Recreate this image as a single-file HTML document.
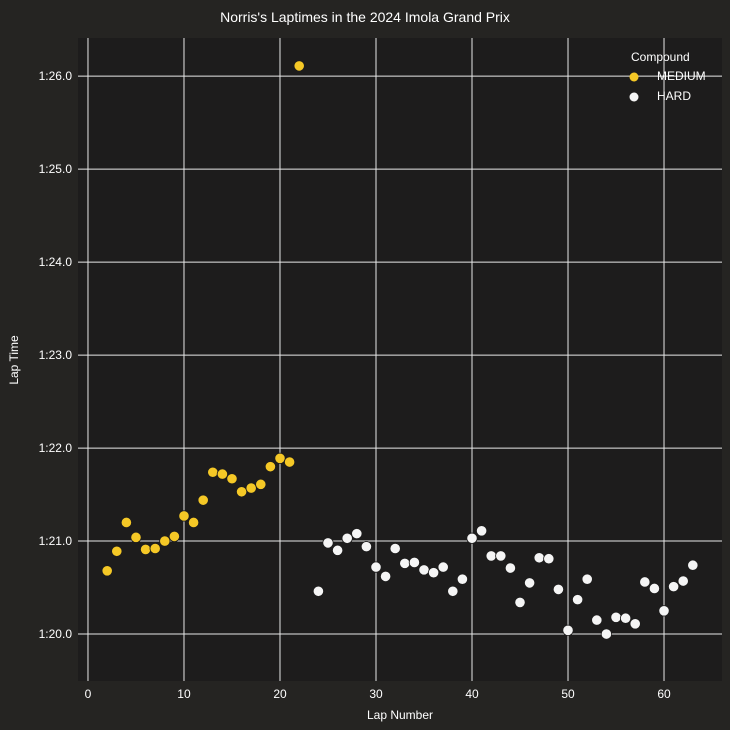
<!DOCTYPE html>
<html><head><meta charset="utf-8"><style>
html,body{margin:0;padding:0;background:#252422;}
svg{display:block;font-family:"Liberation Sans","DejaVu Sans",sans-serif;}
</style></head><body>
<svg id="chart" width="730" height="730">
<rect x="0" y="0" width="730" height="730" fill="#252422"/>
<text x="365" y="22" fill="#ffffff" font-size="14" text-anchor="middle">Norris's Laptimes in the 2024 Imola Grand Prix</text>
<rect x="78" y="38" width="644" height="643" fill="#1d1c1c"/>
<g id="grid"></g><g id="ticks"></g><g id="marks"></g>
<text x="400" y="719" fill="#ffffff" font-size="12" text-anchor="middle">Lap Number</text>
<text x="18" y="360" fill="#ffffff" font-size="12" text-anchor="middle" transform="rotate(-90 18 360)">Lap Time</text>
<g>
<text x="631" y="61" fill="#ffffff" font-size="12">Compound</text>
<circle cx="634" cy="77" r="4.5" fill="#f5c826"/>
<text x="657" y="80" fill="#ffffff" font-size="12">MEDIUM</text>
<circle cx="634" cy="97" r="4.5" fill="#f5f5f5"/>
<text x="657" y="100" fill="#ffffff" font-size="12">HARD</text>
</g>
</svg>
<script>
const mediumLaps=[2,3,4,5,6,7,8,9,10,11,12,13,14,15,16,17,18,19,20,21,22];
const mediumTimes=[80.68,80.89,81.20,81.04,80.91,80.92,81.00,81.05,81.27,81.20,81.44,81.74,81.72,81.67,81.53,81.57,81.61,81.80,81.89,81.85,86.11];
const hardLaps=[24,25,26,27,28,29,30,31,32,33,34,35,36,37,38,39,40,41,42,43,44,45,46,47,48,49,50,51,52,53,54,55,56,57,58,59,60,61,62,63];
const hardTimes=[80.46,80.98,80.90,81.03,81.08,80.94,80.72,80.62,80.92,80.76,80.77,80.69,80.66,80.72,80.46,80.59,81.03,81.11,80.84,80.84,80.71,80.34,80.55,80.82,80.81,80.48,80.04,80.37,80.59,80.15,80.00,80.18,80.17,80.11,80.56,80.49,80.25,80.51,80.57,80.74];
const xTicks=[0,10,20,30,40,50,60];
const yTicks=[80,81,82,83,84,85,86];
const yTickLabels=["1:20.0","1:21.0","1:22.0","1:23.0","1:24.0","1:25.0","1:26.0"];

const X0=78,X1=722,Y0=681,Y1=38;
const xMin=-1.04,xMax=66.04,yMin=79.495,yMax=86.41;
function xs(v){return X0+(v-xMin)/(xMax-xMin)*(X1-X0);}
function ys(v){return Y0-(v-yMin)/(yMax-yMin)*(Y0-Y1);}
const NS="http://www.w3.org/2000/svg";
const grid=document.getElementById('grid'),ticks=document.getElementById('ticks'),marks=document.getElementById('marks');
function mk(tag,attrs,parent){const e=document.createElementNS(NS,tag);for(const k in attrs)e.setAttribute(k,attrs[k]);parent.appendChild(e);return e;}
xTicks.forEach(t=>{
  const l=mk('line',{x1:xs(t),x2:xs(t),y1:Y1,y2:Y0,stroke:'#e8e8e8','stroke-width':1},grid);
  
  
  const tx=mk('text',{x:xs(t),y:Y0+17,fill:'#ffffff','font-size':12,'text-anchor':'middle'},ticks);
  tx.textContent=t;
  
  
});
yTicks.forEach((t,i)=>{
  const l=mk('line',{x1:X0,x2:X1,y1:ys(t),y2:ys(t),stroke:'#e8e8e8','stroke-width':1},grid);
  
  
  const tx=mk('text',{x:X0-6,y:ys(t)+4,fill:'#ffffff','font-size':12,'text-anchor':'end'},ticks);
  tx.textContent=yTickLabels[i];
  
  
});
function plot(laps,times,color,name){
  laps.forEach((lap,i)=>{
    const c=mk('circle',{cx:xs(lap),cy:ys(times[i]),r:5.2,fill:color,stroke:'#1d1c1c','stroke-width':0.8},marks);
    
    
  });
}
plot(mediumLaps,mediumTimes,'#f5c826','point-medium');
plot(hardLaps,hardTimes,'#f5f5f5','point-hard');
</script>
</body></html>
